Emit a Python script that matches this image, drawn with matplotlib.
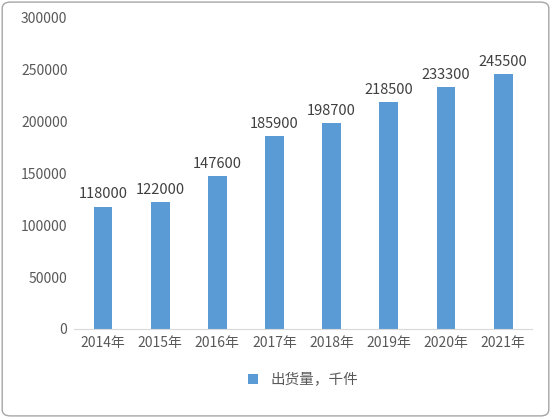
import matplotlib.pyplot as plt
from matplotlib.patches import FancyBboxPatch

plt.rcParams['font.family'] = ['Noto Sans CJK SC', 'DejaVu Sans']

years = ['2014年', '2015年', '2016年', '2017年', '2018年', '2019年', '2020年', '2021年']
shipments = [118000, 122000, 147600, 185900, 198700, 218500, 233300, 245500]
series_name = '出货量，千件'

fig = plt.figure(figsize=(5.51, 4.18), dpi=100)
ax = fig.add_axes([0.135, 0.213, 0.83, 0.744])

bars = ax.bar(years, shipments, width=0.33, color='#5B9BD5', label=series_name)
for rect, v in zip(bars, shipments):
    ax.text(rect.get_x() + rect.get_width() / 2, v + 5000, str(v),
            ha='center', va='bottom', fontsize=10.5, color='#404040')

ax.set_ylim(0, 300000)
ax.set_xlim(-0.5, len(years) - 0.5)
ax.set_yticks(range(0, 300001, 50000))
ax.tick_params(axis='both', length=0, labelsize=10, colors='#595959', pad=5)
for s in ['top', 'right', 'left']:
    ax.spines[s].set_visible(False)
ax.spines['bottom'].set_color('#D9D9D9')

ax.legend(loc='upper center', bbox_to_anchor=(0.5, -0.1), frameon=False,
          fontsize=10.5, handlelength=0.7, handleheight=0.7, labelcolor='#595959')

border = FancyBboxPatch((0.004, 0.005), 0.992, 0.99, transform=fig.transFigure,
                        boxstyle='round,pad=0,rounding_size=0.015',
                        fill=False, edgecolor='#A6A6A6', linewidth=1)
fig.patches.append(border)

fig.savefig('out.png', dpi=100)
